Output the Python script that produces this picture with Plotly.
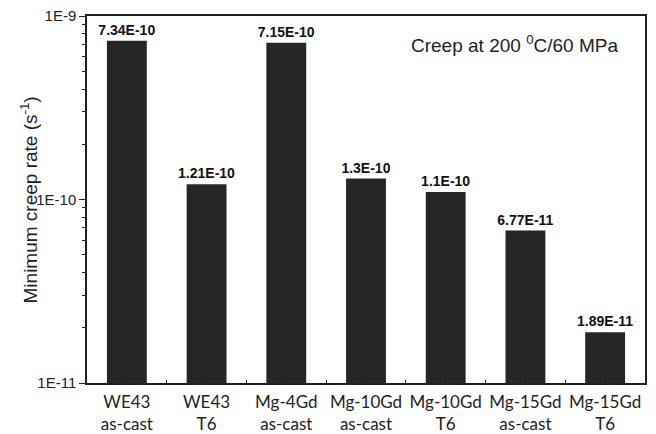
import plotly.graph_objects as go

categories = ["WE43<br>as-cast", "WE43<br>T6", "Mg-4Gd<br>as-cast", "Mg-10Gd<br>as-cast",
              "Mg-10Gd<br>T6", "Mg-15Gd<br>as-cast", "Mg-15Gd<br>T6"]
rates = [7.34e-10, 1.21e-10, 7.15e-10, 1.3e-10, 1.1e-10, 6.77e-11, 1.89e-11]
labels = ["7.34E-10", "1.21E-10", "7.15E-10", "1.3E-10", "1.1E-10", "6.77E-11", "1.89E-11"]
ytick_vals = [1e-11, 1e-10, 1e-9]
ytick_text = ["1E-11", "1E-10", "1E-9"]
y_title = "Minimum creep rate (s<sup>-1</sup>)"
note = "Creep at 200 <sup>0</sup>C/60 MPa"

xpos = list(range(len(categories)))

fig = go.Figure()
fig.add_trace(go.Bar(
    x=xpos, y=rates, width=0.5,
    marker=dict(color="#262626", line=dict(width=0)),
    text=["<b>" + t + "</b>" for t in labels],
    textposition="outside",
    constraintext="none",
    textfont=dict(family="Liberation Sans, Arial", size=14, color="#111"),
    cliponaxis=False,
))

minor_vals = [m * 10 ** e for e in (-11, -10) for m in range(2, 10)]

fig.update_layout(
    width=656, height=434,
    margin=dict(l=87, r=11, t=16, b=51),
    plot_bgcolor="white", paper_bgcolor="white",
    showlegend=False,
    bargap=0.5,
    xaxis=dict(
        range=[-0.5, len(categories) - 0.5],
        tickmode="array", tickvals=xpos, ticktext=categories,
        ticks="inside", ticklen=5, tickwidth=1, tickcolor="#222",
        minor=dict(tickmode="array", tickvals=[p + 0.5 for p in xpos[:-1]],
                   ticks="inside", ticklen=3, tickcolor="#222", showgrid=False),
        showline=True, linecolor="#222", linewidth=1.5, mirror=True,
        showgrid=False, zeroline=False, automargin=False,
        ticklabelstandoff=3,
        tickfont=dict(family="Lato, Open Sans", size=17, color="#222"),
    ),
    yaxis=dict(
        type="log", range=[-11, -9],
        tickmode="array", tickvals=ytick_vals, ticktext=ytick_text,
        ticks="outside", ticklen=6, tickwidth=1, tickcolor="#222",
        minor=dict(tickmode="array", tickvals=minor_vals,
                   ticks="outside", ticklen=3, tickcolor="#222", showgrid=False),
        showline=True, linecolor="#222", linewidth=1.5, mirror=True,
        showgrid=False, zeroline=False, automargin=False,
        tickfont=dict(family="Liberation Sans, Arial", size=15, color="#222"),
    ),
    annotations=[
        dict(text=note, xref="paper", yref="paper",
             x=0.955, y=0.925, xanchor="right", yanchor="middle", showarrow=False,
             font=dict(family="Liberation Sans, Arial", size=19, color="#222")),
        dict(text=y_title, xref="paper", yref="paper", textangle=-90,
             x=-0.104, y=0.5, xanchor="center", yanchor="middle", showarrow=False,
             font=dict(family="Liberation Sans, Arial", size=19, color="#222")),
    ],
)

fig.write_html("out.html")
